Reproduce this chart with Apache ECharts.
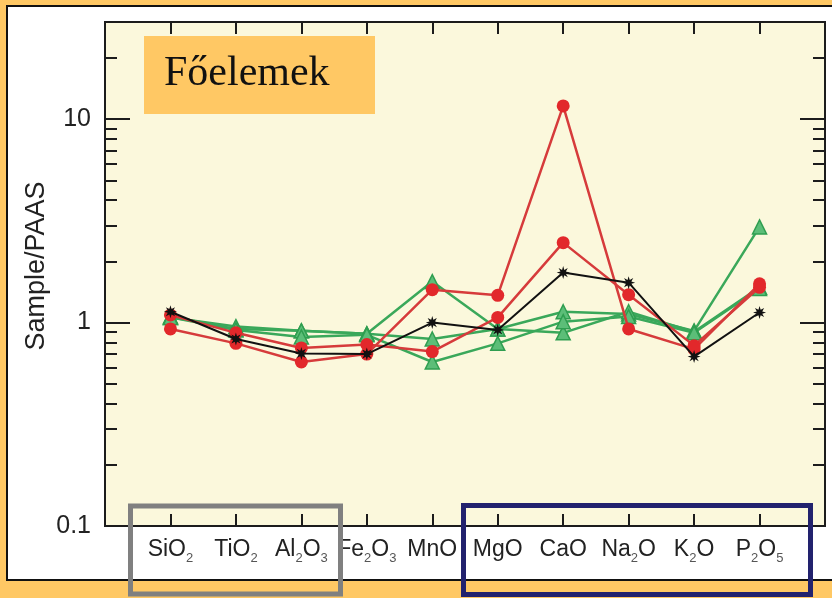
<!doctype html>
<html>
<head>
<meta charset="utf-8">
<title>Főelemek - Sample/PAAS</title>
<style>
  html, body { margin: 0; padding: 0; background: #FFC864; }
  #main { width: 832px; height: 598px; }
</style>
</head>
<body>
<div id="main"></div>
<script src="https://cdn.jsdelivr.net/npm/echarts@6/dist/echarts.min.js"></script>
<script>
var categories = ['SiO2', 'TiO2', 'Al2O3', 'Fe2O3', 'MnO', 'MgO', 'CaO', 'Na2O', 'K2O', 'P2O5'];
var yMajorTicks = [0.1, 1, 10];
var yMinorTicks = [0.2, 0.3, 0.4, 0.5, 0.6, 0.7, 0.8, 0.9, 2, 3, 4, 5, 6, 7, 8, 9, 20];

// Sample/PAAS values
var red1 = [0.93, 0.79, 0.64, 0.70, 1.45, 1.36, 11.6, 0.93, 0.74, 1.55];
var red2 = [1.09, 0.89, 0.75, 0.78, 0.72, 1.06, 2.47, 1.37, 0.77, 1.49];
var green1 = [1.07, 0.93, 0.91, 0.88, 1.59, 0.93, 1.13, 1.10, 0.91, 2.95];
var green2 = [1.06, 0.955, 0.91, 0.88, 0.83, 0.93, 0.89, 1.13, 0.90, 1.49];
var green3 = [1.06, 0.92, 0.85, 0.87, 0.64, 0.79, 1.01, 1.07, 0.89, 1.47];
var black1 = [1.13, 0.83, 0.705, 0.70, 1.0, 0.92, 1.76, 1.57, 0.68, 1.12];

var chart = echarts.init(document.getElementById('main'));

function toPairs(values) {
    return values.map(function (v, i) { return [i + 1, v]; });
}

// little 8-point star used as the asterisk marker
function starPath() {
    var pts = [];
    for (var k = 0; k < 16; k++) {
        var a = Math.PI * k / 8;
        var r = k % 2 === 0 ? 10 : 4.5;
        pts.push((r * Math.sin(a)).toFixed(2) + ',' + (-r * Math.cos(a)).toFixed(2));
    }
    return 'path://M' + pts.join(' L') + ' Z';
}

var axisColor = '#1c1c1c';
var sans = 'Liberation Sans, Arial, sans-serif';

function xAxisFor(position, withLabels) {
    return {
        type: 'value',
        position: position,
        min: 0,
        max: 11,
        interval: 1,
        splitLine: { show: false },
        axisLine: { show: true, lineStyle: { color: axisColor, width: 2 } },
        axisTick: { show: true, inside: true, length: 12, lineStyle: { color: axisColor, width: 2 } },
        axisLabel: {
            show: withLabels,
            margin: 9,
            color: '#222',
            fontFamily: sans,
            fontSize: 23,
            lineHeight: 30,
            formatter: function (v) {
                if (v < 1 || v > 10) {
                    return '';
                }
                return categories[v - 1]
                    .replace(/([A-Za-z]+)/g, '{n|$1}')
                    .replace(/(\d)/g, '{s|$1}');
            },
            rich: {
                n: { fontSize: 23, lineHeight: 30, color: '#222', fontFamily: sans },
                s: { fontSize: 13, verticalAlign: 'bottom', color: '#555', fontFamily: sans }
            }
        }
    };
}

function yAxisFor(position, ticks, tickLength, withLabels) {
    var axis = {
        type: 'log',
        logBase: 10,
        position: position,
        min: 0.1,
        max: 30,
        splitLine: { show: false },
        axisLine: { show: true, lineStyle: { color: axisColor, width: 2 } },
        axisTick: {
            show: true,
            inside: true,
            length: tickLength,
            customValues: ticks,
            lineStyle: { color: axisColor, width: 2 }
        },
        axisLabel: { show: false }
    };
    if (withLabels) {
        axis.axisLabel = {
            show: true,
            customValues: ticks,
            margin: 14,
            color: '#222',
            fontFamily: sans,
            fontSize: 25
        };
        axis.name = 'Sample/PAAS';
        axis.nameLocation = 'middle';
        axis.nameMoveOverlap = false;
        axis.nameGap = 55;
        axis.nameTextStyle = {
            color: '#222',
            fontFamily: sans,
            fontSize: 27,
            padding: [0, 0, 0, 16]
        };
    }
    return axis;
}

function redSeries(name, values) {
    return {
        name: name,
        type: 'line',
        data: toPairs(values),
        symbol: 'circle',
        symbolSize: 13,
        lineStyle: { color: '#D63B3B', width: 2.5 },
        itemStyle: { color: '#E2282B' },
        z: 3
    };
}

function greenSeries(name, values) {
    return {
        name: name,
        type: 'line',
        data: toPairs(values),
        symbol: 'triangle',
        symbolSize: 14,
        lineStyle: { color: '#3AA85A', width: 2.5 },
        itemStyle: { color: '#5CBE78', borderColor: '#2F9E50', borderWidth: 1.5 },
        z: 2
    };
}

chart.setOption({
    animation: false,
    backgroundColor: '#FFC864',
    graphic: [
        {
            type: 'rect',
            z: -10,
            shape: { x: 7, y: 6, width: 850, height: 574 },
            style: { fill: '#fff', stroke: '#111', lineWidth: 2 }
        },
        {
            type: 'rect',
            z: 100,
            shape: { x: 144, y: 36, width: 231, height: 78 },
            style: { fill: '#FFC864' }
        },
        {
            type: 'text',
            z: 101,
            left: 164,
            top: 53,
            style: {
                text: 'Főelemek',
                fill: '#111',
                font: '42px "Liberation Serif", "Times New Roman", serif'
            }
        },
        {
            type: 'rect',
            z: 100,
            shape: { x: 130.5, y: 506, width: 210, height: 88 },
            style: { fill: 'none', stroke: '#808080', lineWidth: 5 }
        },
        {
            type: 'rect',
            z: 100,
            shape: { x: 463.5, y: 505.5, width: 347, height: 89 },
            style: { fill: 'none', stroke: '#22226E', lineWidth: 5 }
        }
    ],
    grid: {
        left: 105,
        top: 22,
        width: 720,
        height: 504,
        show: true,
        backgroundColor: '#FBF8DC',
        borderColor: axisColor,
        borderWidth: 2
    },
    xAxis: [xAxisFor('bottom', true), xAxisFor('top', false)],
    yAxis: [
        yAxisFor('left', yMajorTicks, 25, true),
        yAxisFor('left', yMinorTicks, 12, false),
        yAxisFor('right', yMajorTicks, 25, false),
        yAxisFor('right', yMinorTicks, 12, false)
    ],
    series: [
        greenSeries('G1', green1),
        greenSeries('G2', green2),
        greenSeries('G3', green3),
        redSeries('R1', red1),
        redSeries('R2', red2),
        {
            name: 'B1',
            type: 'line',
            data: toPairs(black1),
            symbol: starPath(),
            symbolSize: 13,
            lineStyle: { color: '#111', width: 2 },
            itemStyle: { color: '#111' },
            z: 4
        }
    ]
});

window.addEventListener('resize', function () {
    chart.resize();
});
</script>
</body>
</html>
